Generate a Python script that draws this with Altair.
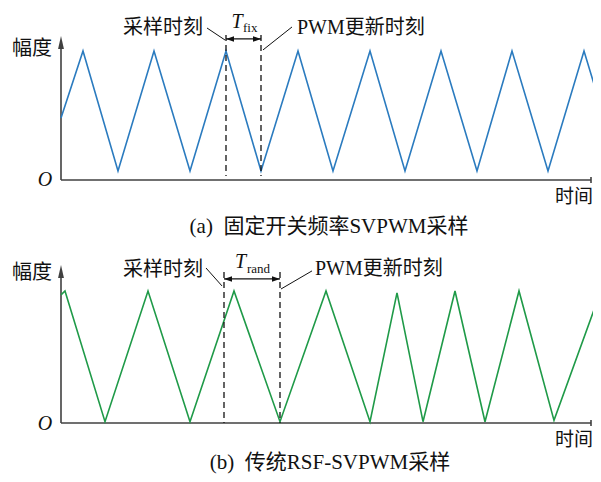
import altair as alt
import pandas as pd

# ---------------- data ----------------
# (a) fixed switching frequency: triangle carrier vertices (time, amplitude)
a_time = [0, 22, 57, 93, 129, 165, 200, 237, 272, 309, 344, 380, 416, 451, 487, 523, 539]
a_amp = [0.48, 1.0, 0.07, 1.0, 0.07, 1.0, 0.07, 1.0, 0.07, 1.0, 0.07, 1.0, 0.07, 1.0, 0.07, 1.0, 0.59]
# (b) conventional RSF: randomised periods
b_time = [0, 4, 44, 87, 129, 173, 219, 265, 309, 336, 362, 394, 424, 458, 493, 536]
b_amp = [0.97, 1.0, 0.01, 1.0, 0.01, 1.0, 0.01, 1.0, 0.01, 0.985, 0.01, 1.0, 0.01, 1.0, 0.02, 0.92]

# sampling / PWM update instants
a_sample_t, a_update_t = 165, 200
b_sample_t, b_update_t = 163, 219

y_label = "幅度"
x_label = "时间"
origin_label = "O"
sample_label = "采样时刻"
update_label = "PWM更新时刻"
a_caption = "(a)\u00a0\u00a0固定开关频率SVPWM采样"
b_caption = "(b)\u00a0\u00a0传统RSF-SVPWM采样"
a_sub = "fix"
b_sub = "rand"

SERIF = "Liberation Serif, Noto Sans CJK SC, serif"
AXIS_COLOR = "#404040"
INK = "#111111"
UP = "M0,-1L0.45,1L-0.45,1Z"
LEFT = "M-1,0L1,-0.7L1,0.7Z"
RIGHT = "M1,0L-1,-0.7L-1,0.7Z"

X_DOMAIN = [-53, 532]
WIDTH = 585


def panel(wave_t, wave_a, color, ydom, height, c):
    xs = alt.Scale(domain=X_DOMAIN, nice=False, zero=False)
    ys = alt.Scale(domain=ydom, nice=False, zero=False)
    X = alt.X("t:Q", scale=xs, axis=None)
    Y = alt.Y("a:Q", scale=ys, axis=None)

    def seg(rows, **kw):
        df = pd.DataFrame(rows, columns=["t", "a", "t2", "a2"])
        return alt.Chart(df).mark_rule(**kw).encode(
            x=X, y=Y, x2=alt.X2("t2"), y2=alt.Y2("a2"))

    def pts(rows, shape, size):
        df = pd.DataFrame(rows, columns=["t", "a"])
        return alt.Chart(df).mark_point(shape=shape, size=size, filled=True,
                                        opacity=1, color=AXIS_COLOR if shape == UP else INK,
                                        strokeWidth=0).encode(x=X, y=Y)

    def txt(rows, **kw):
        df = pd.DataFrame(rows, columns=["t", "a", "label"])
        base = dict(font=SERIF, color=INK, fontSize=20, baseline="middle")
        base.update(kw)
        return alt.Chart(df).mark_text(**base).encode(x=X, y=Y, text="label:N")

    wave = alt.Chart(pd.DataFrame({"t": wave_t, "a": wave_a})).mark_line(
        color=color, strokeWidth=1.6, clip=True).encode(x=X, y=Y)

    s, u = c["sample"], c["update"]
    layers = [
        seg([(0, 0, c["x_end"], 0), (0, 0, 0, c["y_arrow"])], color=AXIS_COLOR, strokeWidth=1.6),
        seg([(c["x_end"], -c["tick"], c["x_end"], c["tick"])], color=AXIS_COLOR, strokeWidth=1.6),
        pts([(0, c["y_arrow"])], UP, 169),
        wave,
        seg([(s, c["dash_top"], s, c["dash_bot"]), (u, c["dash_top"], u, c["dash_bot"])],
            color=INK, strokeWidth=1.3, strokeDash=[6, 4]),
        seg([(s, c["arrow"], u, c["arrow"])], color=INK, strokeWidth=1.3),
        pts([(s + 4, c["arrow"])], LEFT, 64),
        pts([(u - 4, c["arrow"])], RIGHT, 64),
        seg([c["lead_l"], c["lead_r"]], color=INK, strokeWidth=1),
        txt([(c["sample_lbl_t"], c["sample_lbl_a"], sample_label)], align="right"),
        txt([(c["update_lbl_t"], c["update_lbl_a"], update_label)], align="left"),
        txt([(-29, c["ylab_a"], y_label)], align="center"),
        txt([(-16, c["o_a"], origin_label)], align="center", fontStyle="italic"),
        txt([(c["xlab_t"], c["xlab_a"], x_label)], align="right", fontSize=19),
        txt([(c["cap_t"], c["cap_a"], c["caption"])], align="center", fontSize=c["cap_fs"]),
        txt([(c["T_t"], c["T_a"], "T")], align="center", fontStyle="italic",
            baseline="alphabetic"),
        txt([(c["sub_t"], c["sub_a"], c["sub"])], align="left", fontSize=13,
            baseline="alphabetic"),
    ]
    return alt.layer(*layers).properties(width=WIDTH, height=height)


top = panel(a_time, a_amp, "#2b7bbf", [-0.465, 1.333], 232, dict(
    sample=a_sample_t, update=a_update_t, x_end=530, tick=0.023, y_arrow=1.066,
    dash_top=1.124, dash_bot=0.031, arrow=1.093,
    lead_l=(146, 1.178, 164, 1.085), lead_r=(202, 1.008, 231, 1.186),
    sample_lbl_t=142, sample_lbl_a=1.178, update_lbl_t=236, update_lbl_a=1.178,
    ylab_a=1.016, o_a=0.0, xlab_t=532, xlab_a=-0.132,
    cap_t=268, cap_a=-0.364, cap_fs=21, caption=a_caption,
    T_t=176, T_a=1.178, sub_t=182, sub_a=1.147, sub=a_sub))

bottom = panel(b_time, b_amp, "#1f9a48", [-0.386, 1.386], 234, dict(
    sample=b_sample_t, update=b_update_t, x_end=530, tick=0.023, y_arrow=1.148,
    dash_top=1.144, dash_bot=0.0, arrow=1.091,
    lead_l=(145, 1.174, 161, 1.038), lead_r=(220, 1.015, 251, 1.152),
    sample_lbl_t=142, sample_lbl_a=1.159, update_lbl_t=254, update_lbl_a=1.167,
    ylab_a=1.136, o_a=-0.01, xlab_t=532, xlab_a=-0.129,
    cap_t=269, cap_a=-0.303, cap_fs=21, caption=b_caption,
    T_t=179.5, T_a=1.174, sub_t=186, sub_a=1.136, sub=b_sub))

chart = alt.vconcat(top, bottom, spacing=0).properties(
    padding=0, background="white").configure_view(strokeWidth=0, stroke="transparent")

chart.save("out.html", embed_options={"renderer": "svg", "actions": False})
